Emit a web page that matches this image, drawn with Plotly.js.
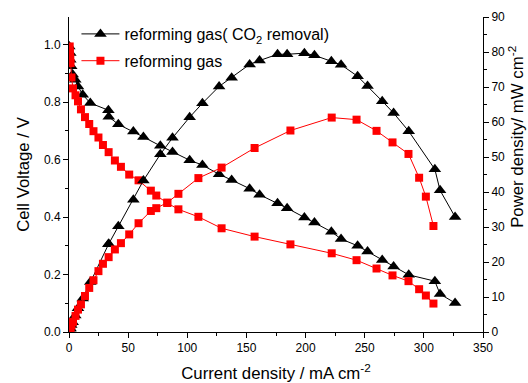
<!DOCTYPE html>
<html>
<head>
<meta charset="utf-8">
<script src="https://cdn.plot.ly/plotly-3.0.1.min.js"></script>
<style>
html,body{margin:0;padding:0;background:#fff;}
#chart{width:528px;height:383px;}
</style>
</head>
<body>
<div id="chart"></div>
<script>
// Current density (mA cm-2), cell voltage (V), power density (mW cm-2)
const seriesNames = ["reforming gas( CO<sub>2</sub> removal)", "reforming gas"];

const currentCO2 = [0.25, 1.1, 1.1, 1.9, 3.1, 5.3, 7.6, 11.6, 18.0, 33.3, 33.6, 41.7, 54.4, 62.9, 77.2, 87.5, 102.0, 112.8, 126.9, 137.5, 152.7, 161.1, 176.3, 184.4, 199.0, 207.5, 221.8, 230.0, 244.0, 252.4, 264.8, 274.4, 287.2, 309.3, 313.7, 326.4];
const voltageCO2 = [0.994, 0.971, 0.948, 0.925, 0.896, 0.878, 0.855, 0.826, 0.797, 0.772, 0.749, 0.723, 0.698, 0.679, 0.648, 0.627, 0.598, 0.581, 0.549, 0.529, 0.499, 0.478, 0.448, 0.431, 0.399, 0.381, 0.349, 0.324, 0.300, 0.280, 0.251, 0.228, 0.199, 0.177, 0.132, 0.101];
const powerCO2 = [0.3, 0.9, 1.1, 2.0, 2.8, 4.7, 6.8, 9.6, 14.3, 25.1, 25.2, 30.2, 37.8, 43.3, 50.8, 55.5, 61.4, 65.4, 70.2, 72.7, 76.5, 77.6, 79.4, 79.4, 79.7, 79.1, 77.4, 76.4, 73.1, 70.3, 66.0, 62.6, 57.4, 46.5, 40.5, 32.9];

const currentRef = [0.6, 0.8, 1.1, 1.3, 2.1, 3.4, 5.5, 7.6, 10.1, 13.5, 17.1, 20.7, 24.9, 28.7, 33.5, 38.8, 43.9, 50.9, 58.8, 69.2, 73.8, 83.1, 92.5, 109.4, 129.0, 156.9, 187.2, 222.1, 243.1, 260.0, 273.5, 287.0, 296.0, 301.7, 308.1];
const voltageRef = [0.994, 0.973, 0.953, 0.936, 0.886, 0.848, 0.824, 0.803, 0.775, 0.748, 0.724, 0.699, 0.677, 0.651, 0.626, 0.597, 0.575, 0.548, 0.528, 0.492, 0.475, 0.449, 0.427, 0.401, 0.361, 0.332, 0.305, 0.274, 0.250, 0.221, 0.197, 0.177, 0.149, 0.127, 0.099];
const powerRef = [0.6, 0.8, 1.0, 1.2, 2.0, 2.9, 4.6, 6.4, 7.9, 10.3, 12.6, 14.8, 17.4, 19.5, 21.4, 23.6, 25.4, 27.9, 31.1, 34.6, 35.4, 37.0, 39.5, 44.0, 47.0, 52.6, 57.6, 61.3, 60.7, 57.5, 54.2, 50.9, 44.1, 38.7, 30.3];

const xTickVals = [0, 50, 100, 150, 200, 250, 300, 350];
const yTickVals = [0.0, 0.2, 0.4, 0.6, 0.8, 1.0];
const yTickText = ["0.0", "0.2", "0.4", "0.6", "0.8", "1.0"];
const y2TickVals = [0, 10, 20, 30, 40, 50, 60, 70, 80, 90];

const FONT = "Liberation Sans, Arial, sans-serif";
const blackStyle = {color: "#000000", width: 1};
const redStyle = {color: "#ff0000", width: 1};
const triMarker = {symbol: "triangle-up", size: 11, color: "#000000"};
const sqMarker = {symbol: "square", size: 8, color: "#ff0000"};

const traces = [
  {x: currentCO2, y: voltageCO2, name: seriesNames[0], mode: "lines+markers", line: blackStyle, marker: triMarker, xaxis: "x", yaxis: "y", legendgroup: "a"},
  {x: currentRef, y: voltageRef, name: seriesNames[1], mode: "lines+markers", line: redStyle, marker: sqMarker, xaxis: "x", yaxis: "y", legendgroup: "b"},
  {x: currentCO2, y: powerCO2, name: seriesNames[0], mode: "lines+markers", line: blackStyle, marker: triMarker, xaxis: "x", yaxis: "y2", showlegend: false, legendgroup: "a"},
  {x: currentRef, y: powerRef, name: seriesNames[1], mode: "lines+markers", line: redStyle, marker: sqMarker, xaxis: "x", yaxis: "y2", showlegend: false, legendgroup: "b"}
];

const layout = {
  width: 528, height: 383,
  margin: {l: 69, r: 44.7, t: 16.5, b: 51, pad: 0},
  paper_bgcolor: "#ffffff", plot_bgcolor: "#ffffff",
  font: {family: FONT, color: "#000000", size: 12},
  showlegend: true,
  legend: {x: 0.018, xanchor: "left", y: 1.0, yanchor: "top", bgcolor: "rgba(0,0,0,0)",
           itemwidth: 38,
           font: {family: FONT, size: 16, color: "#000000"}, traceorder: "grouped", tracegroupgap: 3},
  xaxis: {
    range: [0, 350], showgrid: false, zeroline: false, showline: true, linecolor: "#000", linewidth: 1,
    ticks: "outside", ticklen: 5, tickcolor: "#000", tickvals: xTickVals,
    minor: {ticks: "outside", ticklen: 3, dtick: 25, tick0: 0, tickcolor: "#000", showgrid: false},
    tickfont: {family: FONT, size: 12, color: "#000"},
    title: {text: "Current density / mA cm<sup>-2</sup>", font: {family: FONT, size: 16.8, color: "#000"}, standoff: 14},
    automargin: false
  },
  xaxis2: {
    overlaying: "x", side: "top", anchor: "y", range: [0, 350], showgrid: false, zeroline: false,
    showline: true, linecolor: "#000", linewidth: 1, ticks: "inside", ticklen: 4, tickcolor: "#000",
    dtick: 25, tick0: 0, showticklabels: false
  },
  yaxis: {
    range: [0, 1.0965], showgrid: false, zeroline: false, showline: true, linecolor: "#000", linewidth: 1,
    ticks: "outside", ticklen: 5, tickcolor: "#000", tickvals: yTickVals, ticktext: yTickText,
    minor: {ticks: "outside", ticklen: 3, dtick: 0.1, tick0: 0, tickcolor: "#000", showgrid: false},
    tickfont: {family: FONT, size: 12, color: "#000"},
    title: {text: "Cell Voltage / V", font: {family: FONT, size: 16.8, color: "#000"}, standoff: 10},
    automargin: false
  },
  yaxis2: {
    overlaying: "y", side: "right", anchor: "x", range: [0, 90.05], showgrid: false, zeroline: false,
    showline: true, linecolor: "#000", linewidth: 1,
    ticks: "outside", ticklen: 5, tickcolor: "#000", tickvals: y2TickVals,
    minor: {ticks: "outside", ticklen: 3, dtick: 5, tick0: 0, tickcolor: "#000", showgrid: false},
    tickfont: {family: FONT, size: 12, color: "#000"},
    automargin: false
  },
  annotations: [
    {text: "Power density/ mW cm<sup>-2</sup>", xref: "paper", yref: "paper", x: 1.081, y: 0.618,
     xanchor: "center", yanchor: "middle", textangle: -90, showarrow: false,
     font: {family: FONT, size: 16.8, color: "#000"}}
  ]
};

Plotly.newPlot("chart", traces, layout, {staticPlot: true, displayModeBar: false});
</script>
</body>
</html>
